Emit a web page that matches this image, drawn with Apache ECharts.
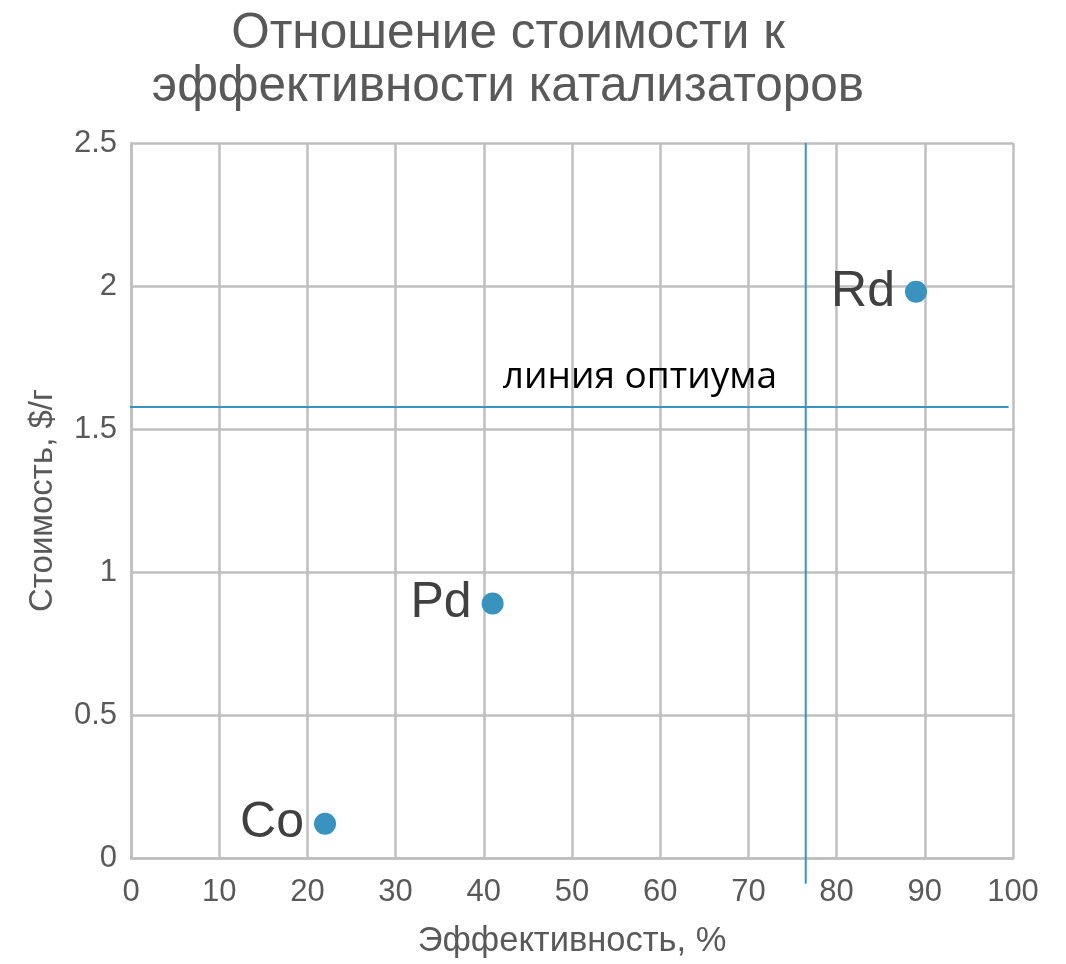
<!DOCTYPE html>
<html><head><meta charset="utf-8">
<script src="https://cdn.jsdelivr.net/npm/echarts@6/dist/echarts.min.js"></script>
<style>html,body{margin:0;padding:0;background:#fff}#c{width:1066px;height:964px}</style>
</head><body><div id="c"></div>
<script>
const catalysts = ['Co', 'Pd', 'Rd'];
const efficiency = [22, 41, 89];
const cost = [0.12, 0.89, 1.98];
const xTicks = [0, 10, 20, 30, 40, 50, 60, 70, 80, 90, 100];
const yTicks = [0, 0.5, 1, 1.5, 2, 2.5];
// optimum lines: vertical at efficiency, horizontal at cost
const optimumEfficiency = 76.5;
const optimumCost = 1.577;
const verticalLineCostRange = [-0.09, 2.5];
const horizontalLineEffRange = [-0.45, 99.5];
const optimumLabel = 'линия оптиума';
const optimumLabelPos = [57.7, 1.68];

const chart = echarts.init(document.getElementById('c'));
const font = 'Liberation Sans, Arial, sans-serif';
const lineColor = '#3a93be';
chart.setOption({
  animation: false,
  title: {
    text: 'Отношение стоимости к\nэффективности катализаторов',
    left: 503, top: 3, textAlign: 'center',
    textStyle: { fontFamily: font, fontSize: 49.5, fontWeight: 'normal', color: '#595959', lineHeight: 53 }
  },
  grid: { left: 131, right: 53, top: 143, bottom: 103, containLabel: false },
  xAxis: {
    type: 'value', min: xTicks[0], max: xTicks[xTicks.length - 1], interval: 10,
    name: 'Эффективность, %', nameLocation: 'middle', nameGap: 66,
    nameTextStyle: { fontFamily: font, fontSize: 34.5, color: '#595959' },
    axisLine: { show: true, lineStyle: { color: '#bfbfbf', width: 2.5 } },
    axisTick: { show: false },
    axisLabel: { fontFamily: font, fontSize: 31, color: '#595959', margin: 19 },
    splitLine: { show: true, lineStyle: { color: '#bfbfbf', width: 2.5 } }
  },
  yAxis: {
    type: 'value', min: yTicks[0], max: yTicks[yTicks.length - 1], interval: 0.5,
    name: 'Стоимость, $/г', nameLocation: 'middle', nameGap: 72,
    nameTextStyle: { fontFamily: font, fontSize: 33, color: '#595959' },
    axisLine: { show: true, lineStyle: { color: '#bfbfbf', width: 2.5 } },
    axisTick: { show: false },
    axisLabel: { fontFamily: font, fontSize: 31, color: '#595959', margin: 14 },
    splitLine: { show: true, lineStyle: { color: '#bfbfbf', width: 2.5 } }
  },
  series: [
    {
      type: 'line', clip: false, symbol: 'none', silent: true,
      lineStyle: { color: lineColor, width: 2 },
      data: verticalLineCostRange.map(c => [optimumEfficiency, c])
    },
    {
      type: 'line', clip: false, symbol: 'none', silent: true,
      lineStyle: { color: lineColor, width: 2 },
      data: horizontalLineEffRange.map(e => [e, optimumCost]),
      markPoint: {
        silent: true, symbol: 'circle', symbolSize: 1,
        itemStyle: { color: 'rgba(0,0,0,0)' },
        label: { show: true, position: 'inside', formatter: optimumLabel,
          fontFamily: 'Open Sans, sans-serif', fontSize: 37, color: '#000' },
        data: [{ coord: optimumLabelPos }]
      }
    },
    {
      type: 'scatter',
      clip: false,
      symbolSize: 22,
      itemStyle: { color: '#3a93be', opacity: 1 },
      data: catalysts.map((n, i) => ({ name: n, value: [efficiency[i], cost[i]] })),
      label: {
        show: true, position: 'left', distance: 10,
        formatter: p => p.name,
        fontFamily: font, fontSize: 50, color: '#404040'
      }
    }
  ]
});
</script></body></html>
